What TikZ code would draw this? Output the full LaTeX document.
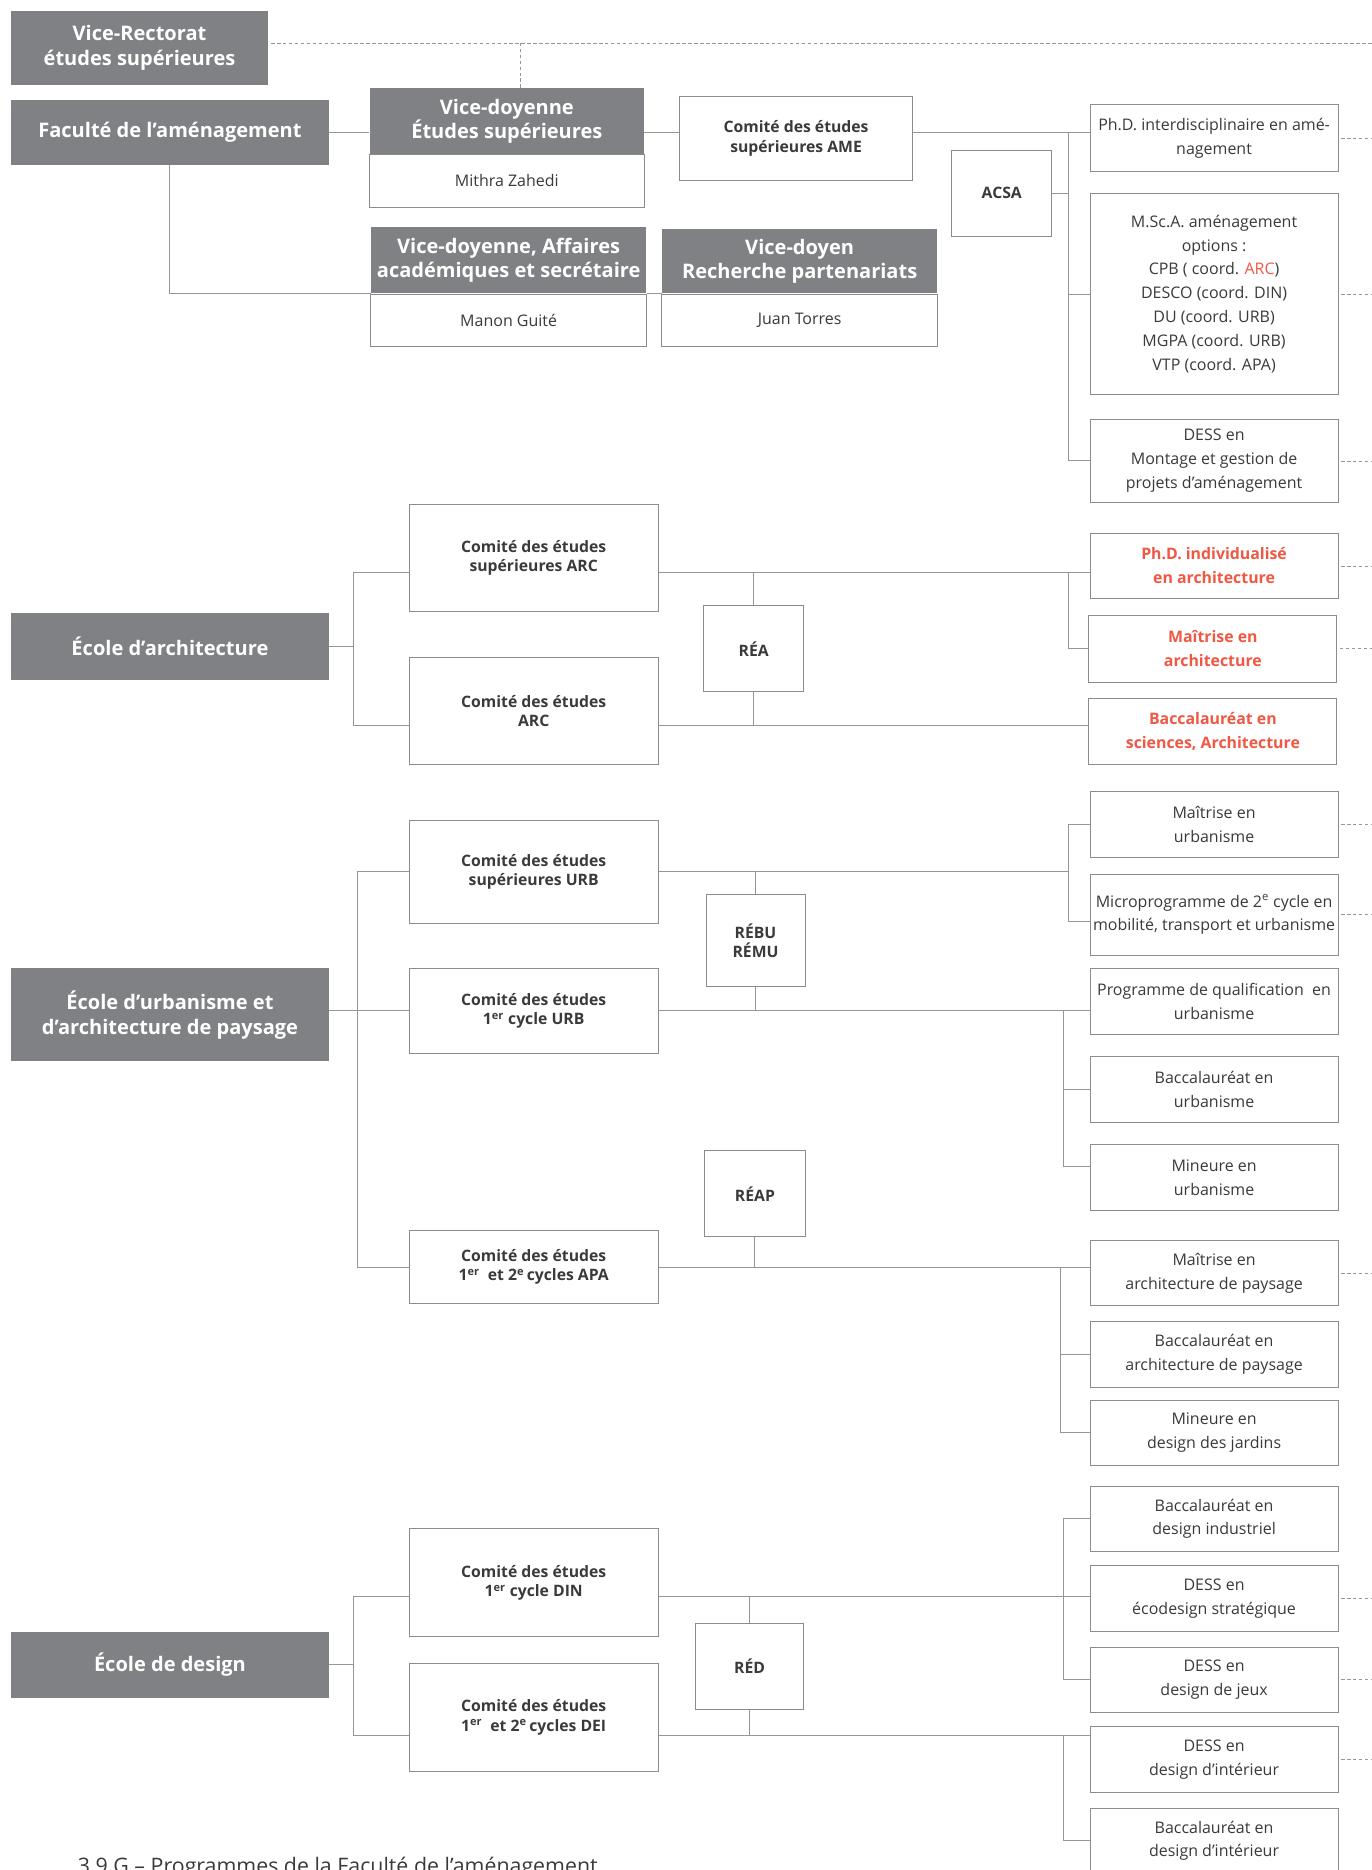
\documentclass[tikz,border=0pt]{standalone}
\usepackage{fontspec}
\setmainfont{Open Sans}
\usepackage{tikz}
\usetikzlibrary{calc, positioning}
\definecolor{headgray}{RGB}{128,129,132}
\definecolor{boxgray}{RGB}{140,140,142}
\definecolor{linegray}{RGB}{150,150,152}
\definecolor{textgray}{RGB}{58,58,60}
\definecolor{accent}{RGB}{240,88,68}
\tikzset{
  x=1pt, y=-1pt, % pixel-like units, y grows downwards
  head/.style={fill=headgray, text=white, inner sep=0pt, align=center,
    font=\bfseries\fontsize{16.8}{20.5}\selectfont}, % dark title boxes
  prog/.style={draw=boxgray, line width=0.8pt, fill=white, text=textgray,
    inner sep=0pt, align=center, minimum width=208, minimum height=55,
    font=\fontsize{13.4}{20}\selectfont}, % programme boxes
  progred/.style={prog, text=accent, font=\bfseries\fontsize{13.3}{20}\selectfont},
  comite/.style={draw=boxgray, line width=0.8pt, text=textgray, inner sep=0pt,
    align=center, minimum width=209, minimum height=90,
    font=\bfseries\fontsize{13.2}{16}\selectfont}, % committees
  reseau/.style={comite, minimum width=84, minimum height=72},
  link/.style={draw=linegray, line width=0.8pt},
  stub/.style={draw=linegray, line width=0.6pt, dash pattern=on 3pt off 2pt,
    shorten <=2pt},
}

\begin{document}
\begin{tikzpicture}
\useasboundingbox (0,0) rectangle (1150,1568);
\coordinate (rim) at (1150,0);

% --- faculte ---
\node[head, minimum width=216, minimum height=62] (vrect) at (117,40) {Vice-Rectorat\\études supérieures};
\node[head, minimum width=267, minimum height=54] (fac) at (142.5,111) {Faculté de l’aménagement};
\node[head, minimum width=230, minimum height=55] (vdES) at (425,101.5) {Vice-doyenne\\Études supérieures};
\node[prog, minimum width=230, minimum height=44, below=0pt of vdES] (vdESn) {Mithra Zahedi};
\node[head, minimum width=231, minimum height=56] (vdAff) at (426.5,218) {Vice-doyenne, Affaires\\académiques et secrétaire};
\node[prog, minimum width=231, minimum height=44, below=0pt of vdAff] (vdAffn) {Manon Guité};
\node[head, minimum width=231, minimum height=54] (vdRech) at (670.5,219) {Vice-doyen\\Recherche partenariats};
\node[prog, minimum width=231, minimum height=44, below=0pt of vdRech] (vdRechn) {Juan Torres};
\node[comite, minimum width=195, minimum height=70] (cAME) at (667.5,116) {Comité des études\\supérieures AME};
\node[reseau] (acsa) at (840,162) {ACSA};
\node[prog, minimum height=56] (phdA) at (1018,116) {Ph.D. interdisciplinaire en amé-\\nagement};
\node[prog, minimum height=169] (msca) at (1018,246.5) {M.Sc.A. aménagement\\options :\\CPB ( coord. \textcolor{accent}{ARC})\\DESCO (coord. DIN)\\DU (coord. URB)\\MGPA (coord. URB)\\VTP (coord. APA)};
\node[prog, minimum height=69] (dessM) at (1018,386.5) {DESS en\\Montage et gestion de\\projets d’aménagement};

\coordinate (lAME) at (0,111);
\coordinate (busA) at (896,111);
\coordinate (lVR) at ([yshift=4pt]vrect.east);
\coordinate (tVD) at ([xshift=11pt]vdES.north);
\draw[stub] (lVR) -- (lVR -| rim);
\draw[stub, shorten <=0pt] (tVD) -- (tVD |- lVR);
\draw[link] (fac.east) -- (fac.east -| vdES.west);
\draw[link] (lAME -| vdES.east) -- (lAME -| cAME.west);
\draw[link] (lAME -| cAME.east) -- (lAME -| phdA.west);
\draw[link] (busA) |- (dessM.west);
\draw[link] (acsa.east) -- (acsa.east -| busA);
\draw[link] (msca.west) -- (msca.west -| busA);
\draw[link] (fac.south) |- (vdAff.south west);
\draw[link] (vdAff.south east) -- (vdRech.south west);

% --- ecole d'architecture ---
\node[head, minimum width=267, minimum height=56] (ecArc) at (142.5,542) {École d’architecture};
\node[comite] (cESarc) at (447.5,468) {Comité des études\\supérieures ARC};
\node[comite] (cArc) at (447.5,596) {Comité des études\\ARC};
\node[reseau] (rea) at (632,544) {RÉA};
\node[progred] (phdI) at (1018,474.5) {Ph.D. individualisé\\en architecture};
\node[progred, minimum height=56] (mArc) at (1017,544) {Maîtrise en\\architecture};
\node[progred] (bArc) at (1017,613.5) {Baccalauréat en\\sciences, Architecture};

\coordinate (lArc1) at ([yshift=-12pt]cESarc.east);
\coordinate (lArc2) at ([yshift=-12pt]cArc.east);
\coordinate (busArc) at (296,0);
\coordinate (jArc) at (896,0);
\draw[link] (ecArc.east) -- (ecArc.east -| busArc);
\draw[link] (lArc1 -| cESarc.west) -| (busArc |- lArc2) -- (lArc2 -| cArc.west);
\draw[link] (lArc1) -- (lArc1 -| phdI.west);
\draw[link] (lArc1 -| jArc) |- (mArc.west);
\draw[link] (rea.north) -- (rea.north |- lArc1);
\draw[link] (rea.south) -- (rea.south |- lArc2);
\draw[link] (lArc2) -- (lArc2 -| bArc.west);

% --- ecole d'urbanisme et d'architecture de paysage ---
\node[head, minimum width=267, minimum height=78] (ecUrb) at (142.5,851) {École d’urbanisme et\\d’architecture de paysage};
\node[comite, minimum height=86] (cESurb) at (447.5,731) {Comité des études\\supérieures URB};
\node[comite, minimum height=71] (c1Urb) at (447.5,847.5) {Comité des études\\1\textsuperscript{er} cycle URB};
\node[comite, minimum height=61] (cApa) at (447.5,1062.5) {Comité des études\\1\textsuperscript{er}\ \ et 2\textsuperscript{e}\,cycles APA};
\node[reseau, minimum width=83, minimum height=77] (rebu) at (633.5,788.5) {RÉBU\\RÉMU};
\node[reseau] (reap) at (633,1001) {RÉAP};
\node[prog] (mUrb) at (1018,691.5) {Maîtrise en\\urbanisme};
\node[prog, minimum height=68] (micro) at (1018,767) {Microprogramme de 2\textsuperscript{e} cycle en\\mobilité, transport et urbanisme};
\node[prog] (pq) at (1018,839.5) {Programme de qualification~ en\\urbanisme};
\node[prog] (bUrb) at (1018,913.5) {Baccalauréat en\\urbanisme};
\node[prog] (minUrb) at (1018,987.5) {Mineure en\\urbanisme};
\node[prog] (mApa) at (1018,1067.5) {Maîtrise en\\architecture de paysage};
\node[prog] (bApa) at (1018,1135.5) {Baccalauréat en\\architecture de paysage};
\node[prog] (minJar) at (1018,1201.5) {Mineure en\\design des jardins};

\coordinate (busUrb) at (300,0);
\coordinate (busU1) at (896,0);
\coordinate (busU2) at (892,0);
\coordinate (busU3) at (889,0);
\coordinate (tMicro) at ([yshift=-6pt]micro.west);
\coordinate (tMinU) at ([yshift=9pt]minUrb.west);
\draw[link] (c1Urb.west -| ecUrb.east) -- (c1Urb.west);
\draw[link] (cESurb.west) -| (busUrb |- cApa.west) -- (cApa.west);
\draw[link] (cESurb.east) -- (cESurb.east -| busU1);
\draw[link] (mUrb.west) -| (tMicro -| busU1) -- (tMicro);
\draw[link] (rebu.north) -- (rebu.north |- cESurb.east);
\draw[link] (rebu.south) -- (rebu.south |- c1Urb.east);
\draw[link] (c1Urb.east) -- (c1Urb.east -| pq.west);
\draw[link] (c1Urb.east -| busU2) |- (tMinU);
\draw[link] (bUrb.west) -- (bUrb.west -| busU2);
\draw[link] (reap.south) -- (reap.south |- cApa.east);
\draw[link] (cApa.east) -- (cApa.east -| mApa.west);
\draw[link] (cApa.east -| busU3) |- (minJar.west);
\draw[link] (bApa.west) -- (bApa.west -| busU3);

% --- ecole de design ---
\node[head, minimum width=267, minimum height=56] (ecDes) at (142.5,1396) {École de design};
\node[comite] (cDin) at (447.5,1327) {Comité des études\\1\textsuperscript{er} cycle DIN};
\node[comite] (cDei) at (447.5,1440) {Comité des études\\1\textsuperscript{er}\ \ et 2\textsuperscript{e}\,cycles DEI};
\node[reseau, minimum width=91] (red) at (628.5,1397) {RÉD};
\node[prog] (bDi) at (1018,1273.5) {Baccalauréat en\\design industriel};
\node[prog] (dEco) at (1018,1340.5) {DESS en\\écodesign stratégique};
\node[prog] (dJeux) at (1018,1408.5) {DESS en\\design de jeux};
\node[prog] (dInt) at (1018,1475.5) {DESS en\\design d’intérieur};
\node[prog] (bInt) at (1018,1543.5) {Baccalauréat en\\design d’intérieur};

\coordinate (lDin) at ([yshift=-12pt]cDin.east);
\coordinate (lDei) at ([yshift=-15pt]cDei.east);
\coordinate (busD) at (296,0);
\coordinate (busD2) at (892,0);
\draw[link] (ecDes.east) -- (ecDes.east -| busD);
\draw[link] (lDin -| cDin.west) -| (busD |- lDei) -- (lDei -| cDei.west);
\draw[link] (lDin) -- (lDin -| dEco.west);
\draw[link] (bDi.west) -| (busD2 |- dJeux.west) -- (dJeux.west);
\draw[link] (red.north) -- (red.north |- lDin);
\draw[link] (red.south) -- (red.south |- lDei);
\draw[link] (lDei) -- (lDei -| dInt.west);
\draw[link] (lDei -| busD2) |- (bInt.west);

% dashed leads to the right margin
\foreach \n in {phdA, msca, dessM, phdI, mArc, mUrb, micro, mApa, dEco, dJeux, dInt}
  \draw[stub] (\n.east) -- (\n.east -| rim);

\node[anchor=base west, text=textgray, inner sep=0pt, font=\fontsize{17.9}{20}\selectfont] (cap) at (65,1571) {3.9 G – Programmes de la Faculté de l’aménagement};
\end{tikzpicture}
\end{document}
